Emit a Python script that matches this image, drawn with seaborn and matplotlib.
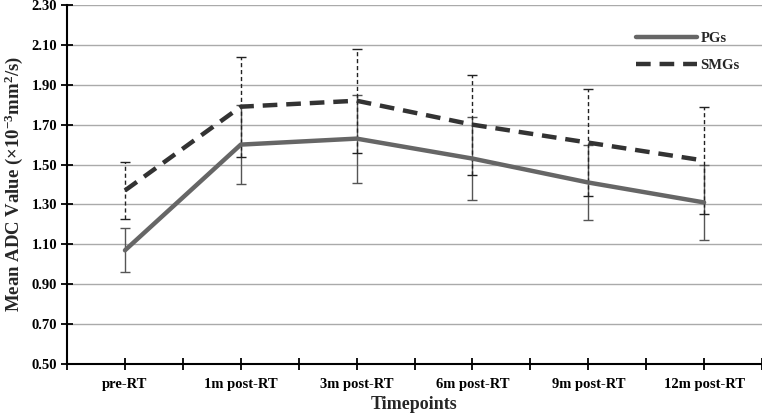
import matplotlib
matplotlib.use("Agg")
import matplotlib.pyplot as plt
import seaborn as sns
import pandas as pd

# values
timepoints = ["pre-RT", "1m post-RT", "3m post-RT", "6m post-RT", "9m post-RT", "12m post-RT"]
pg_mean = [1.07, 1.60, 1.63, 1.53, 1.41, 1.31]
pg_err = [0.11, 0.20, 0.22, 0.21, 0.19, 0.19]
smg_mean = [1.37, 1.79, 1.82, 1.70, 1.61, 1.52]
smg_err = [0.145, 0.25, 0.26, 0.25, 0.27, 0.27]

sns.set_style("white")
plt.rcParams['font.family'] = ['Liberation Serif', 'DejaVu Serif']
plt.rcParams['font.weight'] = 'bold'
plt.rcParams['mathtext.fontset'] = 'custom'
plt.rcParams['mathtext.rm'] = 'Liberation Serif:bold'
plt.rcParams['mathtext.bf'] = 'Liberation Serif:bold'
plt.rcParams['mathtext.default'] = 'bf'

df = pd.DataFrame({
    "pos": list(range(len(timepoints))) * 2,
    "value": pg_mean + smg_mean,
    "group": ["PGs"] * len(timepoints) + ["SMGs"] * len(timepoints),
})

fig = plt.figure(figsize=(7.62, 4.16), dpi=100)
ax = fig.add_axes([0.088, 0.125, 0.912, 0.863])

ax.set_axisbelow(True)
ax.yaxis.grid(True, color="#aaaaaa", linewidth=1.0)

x = list(range(len(timepoints)))
eb1 = ax.errorbar(x, pg_mean, yerr=pg_err, fmt="none", ecolor="#555555",
                  elinewidth=1.0, capsize=3.5, capthick=1.0, zorder=2)
eb2 = ax.errorbar(x, smg_mean, yerr=smg_err, fmt="none", ecolor="#222222",
                  elinewidth=1.0, capsize=3.5, capthick=1.0, zorder=2)
eb2[2][0].set_linestyle((0, (3, 2)))

sns.lineplot(data=df, x="pos", y="value", hue="group", style="group",
             palette={"PGs": "#666666", "SMGs": "#333333"},
             dashes={"PGs": "", "SMGs": (3.3, 2)}, linewidth=3.2, ax=ax, zorder=3)

ax.set_xlim(-0.5, len(timepoints) - 0.5)
ax.set_ylim(0.5, 2.3)
ax.set_yticks([0.5 + 0.2 * i for i in range(10)])
ax.set_yticklabels(["%.2f" % (0.5 + 0.2 * i) for i in range(10)], fontsize=10.5, fontweight="bold")

ax.set_xticks([i - 0.5 for i in range(len(timepoints) + 1)] + x)
ax.set_xticklabels([""] * (len(timepoints) + 1) + timepoints, fontsize=10.5, fontweight="bold")
ax.tick_params(axis="x", bottom=True, direction="inout", length=8, width=1.3, pad=6, colors="black")
ax.tick_params(axis="y", left=True, direction="inout", length=8, width=1.3, pad=3, colors="black")

for s in ["top", "right"]:
    ax.spines[s].set_visible(False)
for s in ["left", "bottom"]:
    ax.spines[s].set_color("black")
    ax.spines[s].set_linewidth(1.5)

ax.set_xlabel("Timepoints", fontsize=13, fontweight="bold", labelpad=4)
ax.set_ylabel("Mean ADC Value (×10$^{-3}$mm$^{2}$/s)", fontsize=13.5, fontweight="bold", labelpad=5)

leg = ax.legend(loc="upper left", bbox_to_anchor=(0.8, 0.963), frameon=False,
                prop={"weight": "bold", "size": 10.5}, handlelength=4.2,
                handletextpad=0.2, labelspacing=1.0)

fig.savefig("out.png", dpi=100)
